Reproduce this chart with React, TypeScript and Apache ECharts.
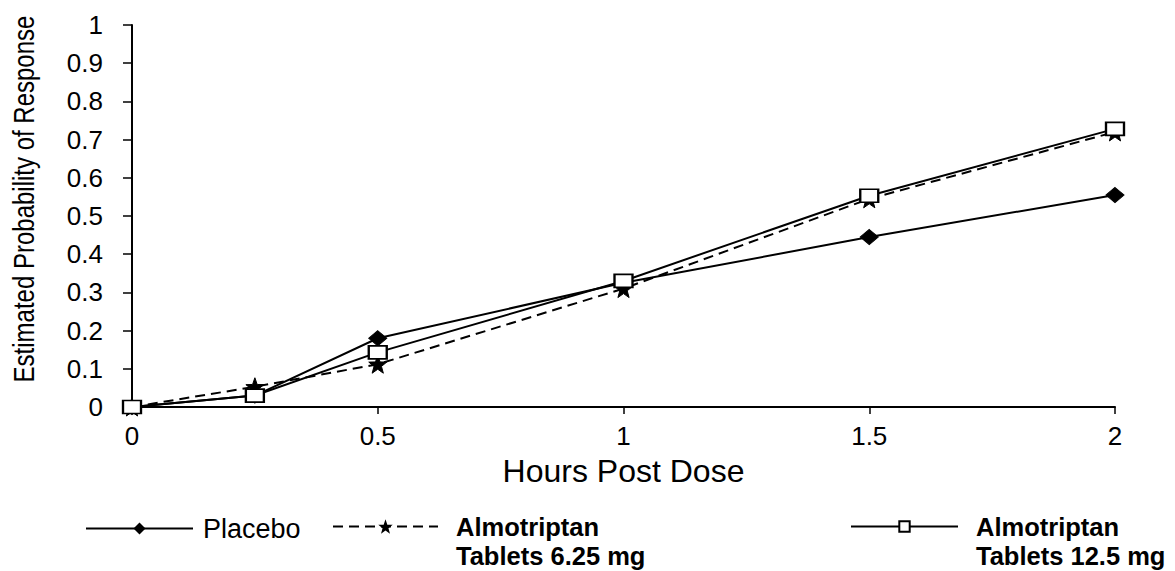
import React, { useEffect, useRef } from "react";
import * as echarts from "echarts";

const hours = [0, 0.25, 0.5, 1, 1.5, 2];
const placebo = [0, 0.03, 0.18, 0.325, 0.445, 0.555];
const almo625 = [0, 0.053, 0.112, 0.31, 0.545, 0.72];
const almo125 = [0, 0.03, 0.143, 0.33, 0.553, 0.728];
const seriesNames = ["Placebo", "Almotriptan Tablets 6.25 mg", "Almotriptan Tablets 12.5 mg"];
const xTicks = ["0", "0.5", "1", "1.5", "2"];
const yAxisTitle = "Estimated Probability of Response";

const STAR = "path://M12,0 L14.9,8.1 L23.4,8.3 L16.7,13.5 L19.1,21.7 L12,16.9 L4.9,21.7 L7.3,13.5 L0.6,8.3 L9.1,8.1 Z";
const SANS = '"Liberation Sans", Arial, sans-serif';

function pairs(ys: number[]) {
  return hours.map((h, i) => [h, ys[i]]);
}

export default function App() {
  const ref = useRef<HTMLDivElement>(null);
  useEffect(() => {
    if (!ref.current) return;
    const chart = echarts.init(ref.current, null, { renderer: "svg" });
    const legendText = (name: string) => {
      if (name === seriesNames[0]) return name;
      const parts = name.split(" Tablets ");
      return "\n" + parts[0] + "\nTablets " + parts[1];
    };
    const boldLegend = {
      fontFamily: SANS,
      fontWeight: "bold",
      fontSize: 25.5,
      lineHeight: 29,
      color: "#000",
      padding: [0, 0, 0, 13],
    };
    chart.setOption({
      animation: false,
      backgroundColor: "#ffffff",
      grid: { left: 132, right: 60, top: 25, bottom: 164, containLabel: false, outerBoundsMode: "none" },
      graphic: [
        {
          type: "text",
          x: 24,
          y: 199,
          rotation: Math.PI / 2,
          scaleX: 1,
          scaleY: 1.22,
          style: {
            text: yAxisTitle,
            fontFamily: SANS,
            fontSize: 24,
            fill: "#000",
            align: "center",
            verticalAlign: "middle",
          },
        },
      ],
      xAxis: {
        type: "value",
        min: 0,
        max: 2,
        interval: 0.5,
        name: "Hours Post Dose",
        nameLocation: "middle",
        nameGap: 48,
        nameTextStyle: { fontFamily: SANS, fontSize: 32, color: "#000" },
        axisLine: { lineStyle: { color: "#000", width: 2 } },
        axisTick: { show: true, inside: false, length: 7, lineStyle: { color: "#000", width: 1.5 } },
        axisLabel: {
          fontFamily: SANS,
          fontSize: 26,
          color: "#000",
          margin: 16,
          formatter: (v: number) => xTicks[Math.round(v / 0.5)] ?? String(v),
        },
        splitLine: { show: false },
      },
      yAxis: {
        type: "value",
        min: 0,
        max: 1,
        interval: 0.1,
        axisLine: { show: true, lineStyle: { color: "#000", width: 2 } },
        axisTick: { show: true, inside: false, length: 9, lineStyle: { color: "#000", width: 1.5 } },
        axisLabel: {
          fontFamily: SANS,
          fontSize: 26,
          color: "#000",
          margin: 29,
          formatter: (v: number) => (Math.round(v * 10) / 10).toString(),
        },
        splitLine: { show: false },
      },
      legend: [
        {
          data: [seriesNames[0]],
          left: 85,
          top: 515,
          padding: 0,
          itemWidth: 107,
          itemHeight: 15,
          textStyle: { fontFamily: SANS, fontSize: 27, lineHeight: 27, color: "#000", padding: [0, 0, 0, 5] },
        },
        {
          data: [seriesNames[1]],
          left: 332,
          top: 483,
          padding: 0,
          itemWidth: 105,
          itemHeight: 18,
          formatter: legendText,
          textStyle: boldLegend,
        },
        {
          data: [seriesNames[2]],
          left: 850,
          top: 483,
          padding: 0,
          itemWidth: 107,
          itemHeight: 13,
          formatter: legendText,
          textStyle: boldLegend,
        },
      ],
      series: [
        {
          name: seriesNames[0],
          type: "line",
          data: pairs(placebo),
          symbol: "diamond",
          symbolSize: [18, 15],
          lineStyle: { color: "#000", width: 2 },
          itemStyle: { color: "#000", borderColor: "#000" },
          z: 2,
        },
        {
          name: seriesNames[1],
          type: "line",
          data: pairs(almo625),
          symbol: STAR,
          symbolSize: 18,
          lineStyle: { color: "#000", width: 2, type: [10, 6] },
          itemStyle: { color: "#000", borderColor: "#000" },
          z: 3,
        },
        {
          name: seriesNames[2],
          type: "line",
          data: pairs(almo125),
          symbol: "rect",
          symbolSize: [18, 13],
          lineStyle: { color: "#000", width: 2 },
          itemStyle: { color: "#fff", borderColor: "#000", borderWidth: 2 },
          z: 4,
        },
      ],
    });
    return () => chart.dispose();
  }, []);
  return <div ref={ref} style={{ width: 1175, height: 571, position: "absolute", left: 0, top: 0 }} />;
}
